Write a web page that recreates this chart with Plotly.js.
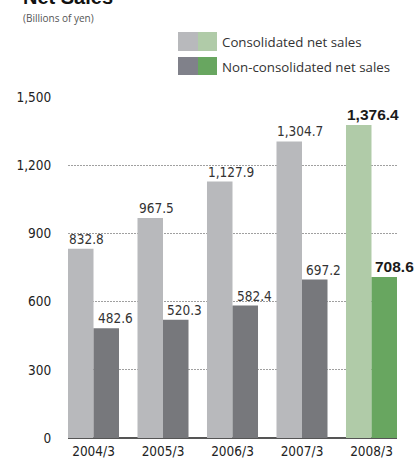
<!DOCTYPE html>
<html>
<head>
<meta charset="utf-8">
<script src="https://cdn.plot.ly/plotly-3.0.1.min.js"></script>
<style>
html,body{margin:0;padding:0;background:#fff;}
#chart{width:414px;height:460px;}
</style>
</head>
<body>
<div id="chart"></div>
<script>
const categories = ["2004/3", "2005/3", "2006/3", "2007/3", "2008/3"];
const consolidated = [832.8, 967.5, 1127.9, 1304.7, 1376.4];
const nonConsolidated = [482.6, 520.3, 582.4, 697.2, 708.6];
const yTicks = [0, 300, 600, 900, 1200, 1500];
const yTickLabels = ["0", "300", "600", "900", "1,200", "1,500"];
const seriesNames = ["Consolidated net sales", "Non-consolidated net sales"];
const titleText = "Net Sales";
const unitText = "(Billions of yen)";

const grayLight = "#b8b9bc", grayDark = "#77787c";
const greenLight = "#b0cba8", greenDark = "#68a660";
const lastIdx = categories.length - 1;
const NARROW = "'DejaVu Sans Condensed', 'Liberation Sans', sans-serif";
const BOLD = "'Liberation Sans', Arial, sans-serif";
const BARGAP = 0.266;
const halfGroup = (1 - BARGAP) / 2;

function fmt(v) {
  return v.toLocaleString("en-US", {minimumFractionDigits: 1, maximumFractionDigits: 1});
}
function colors(arr, normal, highlight) {
  return arr.map((v, i) => i === lastIdx ? highlight : normal);
}

const W = 414, H = 460;
const mL = 68, mR = 17, mT = 97, mB = 22;
const plotH = H - mT - mB, plotW = W - mL - mR;
const py = p => (H - mB - p) / plotH;
const px = p => (p - mL) / plotW;

const traces = [
  {
    type: "bar", name: seriesNames[0], x: categories, y: consolidated,
    marker: {color: colors(consolidated, grayLight, greenLight)},
    hoverinfo: "skip"
  },
  {
    type: "bar", name: seriesNames[1], x: categories, y: nonConsolidated,
    marker: {color: colors(nonConsolidated, grayDark, greenDark)},
    hoverinfo: "skip"
  }
];

// value labels, left-aligned to each bar's left edge
function valueLabels(arr, leftOffset, shift) {
  return arr.map((v, i) => ({
    xref: "x", yref: "y", x: i + leftOffset, y: v,
    xanchor: "left", yanchor: "bottom", xshift: shift, yshift: 0,
    showarrow: false,
    text: i === lastIdx ? "<b>" + fmt(v) + "</b>" : fmt(v),
    font: i === lastIdx ? {family: BOLD, size: 15.5, color: "#1a1a1a"}
                        : {family: NARROW, size: 13.5, color: "#333"}
  }));
}

const layout = {
  width: W, height: H,
  margin: {l: mL, r: mR, t: mT, b: mB, pad: 0},
  paper_bgcolor: "#fff", plot_bgcolor: "#fff",
  barmode: "group", bargap: BARGAP, bargroupgap: 0,
  showlegend: false,
  font: {family: NARROW, color: "#222", size: 13.5},
  xaxis: {
    type: "category", range: [-0.367, 4.367],
    showgrid: false, zeroline: false, showline: false,
    ticks: "outside", ticklen: 1, tickcolor: "rgba(0,0,0,0)",
    tickfont: {family: NARROW, size: 13.5, color: "#222"},
    fixedrange: true
  },
  yaxis: {
    range: [0, 1500], tickvals: yTicks, ticktext: yTickLabels,
    showgrid: true, gridcolor: "#a0a0a0", gridwidth: 1.3, griddash: "1.5px,1.5px",
    zeroline: true, zerolinecolor: "#555", zerolinewidth: 1.6,
    showline: false,
    ticks: "outside", ticklen: 13, tickcolor: "rgba(0,0,0,0)",
    tickfont: {family: NARROW, size: 13.5, color: "#222"},
    fixedrange: true
  },
  shapes: [
    {type: "rect", xref: "paper", yref: "paper", x0: px(178), x1: px(198), y0: py(51), y1: py(32), fillcolor: grayLight, line: {width: 0}},
    {type: "rect", xref: "paper", yref: "paper", x0: px(198), x1: px(217), y0: py(51), y1: py(32), fillcolor: greenLight, line: {width: 0}},
    {type: "rect", xref: "paper", yref: "paper", x0: px(178), x1: px(198), y0: py(75), y1: py(57), fillcolor: "#80818a", line: {width: 0}},
    {type: "rect", xref: "paper", yref: "paper", x0: px(198), x1: px(217), y0: py(75), y1: py(57), fillcolor: greenDark, line: {width: 0}}
  ],
  annotations: [
    {xref: "paper", yref: "paper", x: px(21), y: py(10), xanchor: "left", yanchor: "bottom",
     text: "<b>" + titleText + "</b>", showarrow: false,
     font: {family: BOLD, size: 20, color: "#111"}},
    {xref: "paper", yref: "paper", x: px(21), y: py(18), xanchor: "left", yanchor: "middle",
     text: unitText, showarrow: false,
     font: {family: "Open Sans", size: 10, color: "#555"}},
    {xref: "paper", yref: "paper", x: px(220), y: py(42), xanchor: "left", yanchor: "middle",
     text: seriesNames[0], showarrow: false,
     font: {family: "Open Sans", size: 13.3, color: "#333"}},
    {xref: "paper", yref: "paper", x: px(220), y: py(67), xanchor: "left", yanchor: "middle",
     text: seriesNames[1], showarrow: false,
     font: {family: "Open Sans", size: 13.3, color: "#333"}}
  ].concat(valueLabels(consolidated, -halfGroup, -1), valueLabels(nonConsolidated, 0, 2))
};

Plotly.newPlot("chart", traces, layout, {staticPlot: true, displayModeBar: false});
</script>
</body>
</html>
